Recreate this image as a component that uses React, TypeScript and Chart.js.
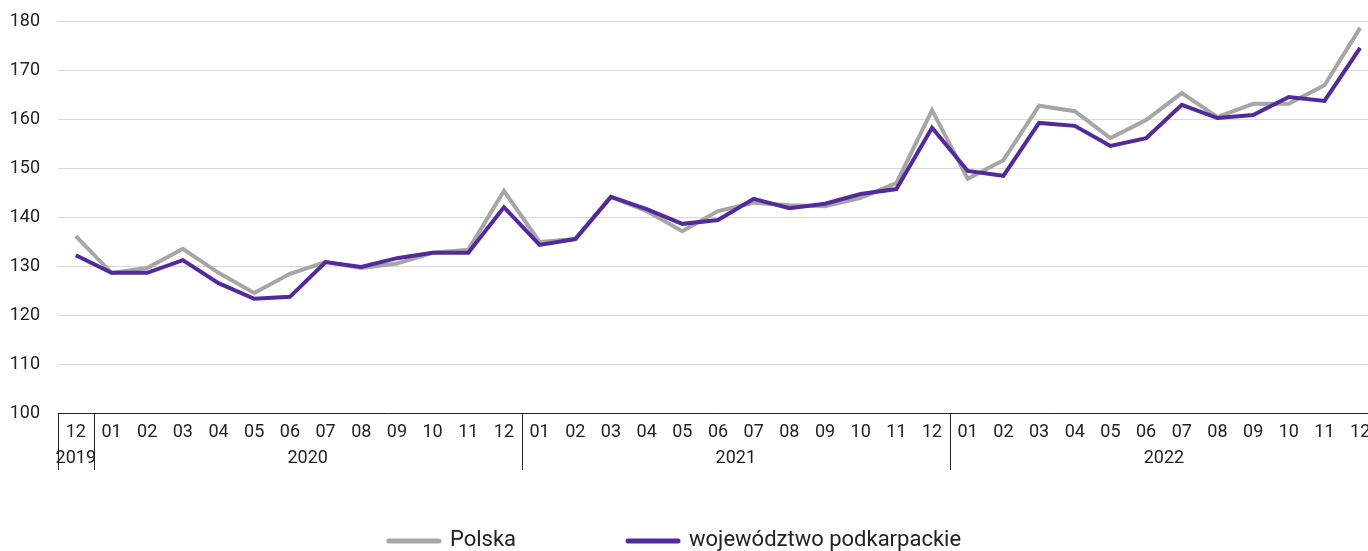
import React, { useEffect, useRef } from "react";
import { Chart, registerables } from "chart.js";

Chart.register(...registerables);

const months = [
  "12",
  "01", "02", "03", "04", "05", "06", "07", "08", "09", "10", "11", "12",
  "01", "02", "03", "04", "05", "06", "07", "08", "09", "10", "11", "12",
  "01", "02", "03", "04", "05", "06", "07", "08", "09", "10", "11", "12",
];

const years = [
  { label: "2019", start: 0, end: 0 },
  { label: "2020", start: 1, end: 12 },
  { label: "2021", start: 13, end: 24 },
  { label: "2022", start: 25, end: 36 },
];

const polska = [
  136.1,
  128.6, 129.6, 133.5, 128.6, 124.5, 128.4, 130.8, 129.6, 130.5, 132.7, 133.3, 145.3,
  134.9, 135.5, 144.1, 141.2, 137.1, 141.2, 142.9, 142.4, 142.2, 143.9, 146.9, 161.8,
  147.8, 151.6, 162.7, 161.6, 156.1, 159.8, 165.3, 160.4, 163.1, 163.1, 166.9, 178.6,
];

const podkarpackie = [
  132.2,
  128.6, 128.6, 131.2, 126.5, 123.3, 123.7, 130.8, 129.8, 131.6, 132.7, 132.7, 142.0,
  134.3, 135.5, 144.1, 141.6, 138.6, 139.4, 143.7, 141.8, 142.7, 144.7, 145.7, 158.2,
  149.4, 148.4, 159.2, 158.6, 154.5, 156.1, 162.9, 160.2, 160.8, 164.5, 163.7, 174.5,
];

const FONT = 'Roboto, "Open Sans", sans-serif';
const TEXT = "#222222";

const yearPlugin = {
  id: "yearRow",
  afterDraw(chart: any) {
    const x = chart.scales.x;
    const ctx = chart.ctx;
    const half = (x.getPixelForValue(1) - x.getPixelForValue(0)) / 2;
    const top = chart.chartArea.bottom;
    ctx.save();
    ctx.strokeStyle = "#222222";
    ctx.lineWidth = 1;
    ctx.fillStyle = TEXT;
    ctx.font = `18px ${FONT}`;
    ctx.textAlign = "center";
    ctx.textBaseline = "middle";
    years.forEach((yr) => {
      const l = x.getPixelForValue(yr.start) - half;
      const r = x.getPixelForValue(yr.end) + half;
      const lx = Math.round(l) + 0.5;
      ctx.beginPath();
      ctx.moveTo(lx, top);
      ctx.lineTo(lx, top + 57);
      ctx.stroke();
      ctx.fillText(yr.label, (l + r) / 2, top + 45);
    });

    // legend
    const ds = chart.data.datasets;
    ctx.font = `22px ${FONT}`;
    ctx.textAlign = "left";
    const boxW = 54;
    const gapBox = 9;
    const gapItem = 110;
    const widths = ds.map((d: any) => ctx.measureText(d.label).width);
    const total =
      widths.reduce((a: number, w: number) => a + boxW + gapBox + w, 0) + gapItem * (ds.length - 1);
    let cx = 674 - total / 2;
    const ly = 540;
    ds.forEach((d: any, i: number) => {
      ctx.strokeStyle = d.borderColor;
      ctx.lineWidth = 5;
      ctx.lineCap = "round";
      ctx.beginPath();
      ctx.moveTo(cx + 2, ly + 1);
      ctx.lineTo(cx + boxW - 2, ly + 1);
      ctx.stroke();
      ctx.fillStyle = TEXT;
      ctx.fillText(d.label, cx + boxW + gapBox, ly);
      cx += boxW + gapBox + widths[i] + gapItem;
    });
    ctx.restore();
  },
};

export default function App() {
  const ref = useRef<HTMLCanvasElement | null>(null);
  useEffect(() => {
    if (!ref.current) return;
    const chart = new Chart(ref.current, {
      type: "line",
      data: {
        labels: months,
        datasets: [
          {
            label: "Polska",
            data: polska,
            borderColor: "#a6a6a6",
            backgroundColor: "#a6a6a6",
            borderWidth: 4,
            pointRadius: 0,
            tension: 0,
            order: 2,
          },
          {
            label: "województwo podkarpackie",
            data: podkarpackie,
            borderColor: "#54299c",
            backgroundColor: "#54299c",
            borderWidth: 4,
            pointRadius: 0,
            tension: 0,
            order: 1,
          },
        ],
      },
      options: {
        animation: false,
        responsive: false,
        maintainAspectRatio: false,
        layout: { padding: { top: 21, right: 0, left: 0, bottom: 0 } },
        plugins: {
          tooltip: { enabled: false },
          legend: { display: false },
        },
        scales: {
          x: {
            offset: true,
            grid: { display: false },
            border: { display: true, color: "#222222", width: 1 },
            ticks: {
              font: { family: FONT, size: 18 },
              color: TEXT,
              padding: 1,
              maxRotation: 0,
              autoSkip: false,
            },
            afterFit: (s: any) => {
              s.height = 138;
            },
          },
          y: {
            min: 100,
            max: 180,
            ticks: {
              stepSize: 10,
              font: { family: FONT, size: 18 },
              color: TEXT,
              padding: 18,
            },
            grid: { color: "#d9d9d9", lineWidth: 1, drawTicks: false },
            border: { display: false },
            afterFit: (s: any) => {
              s.width = 58;
              s.paddingTop = 0;
              s.paddingBottom = 0;
            },
          },
        },
      },
      plugins: [yearPlugin],
    });
    return () => chart.destroy();
  }, []);
  return (
    <div style={{ position: "absolute", left: 0, top: 0, width: 1368, height: 551, overflow: "hidden" }}>
      <canvas ref={ref} width={1378} height={551} />
    </div>
  );
}
